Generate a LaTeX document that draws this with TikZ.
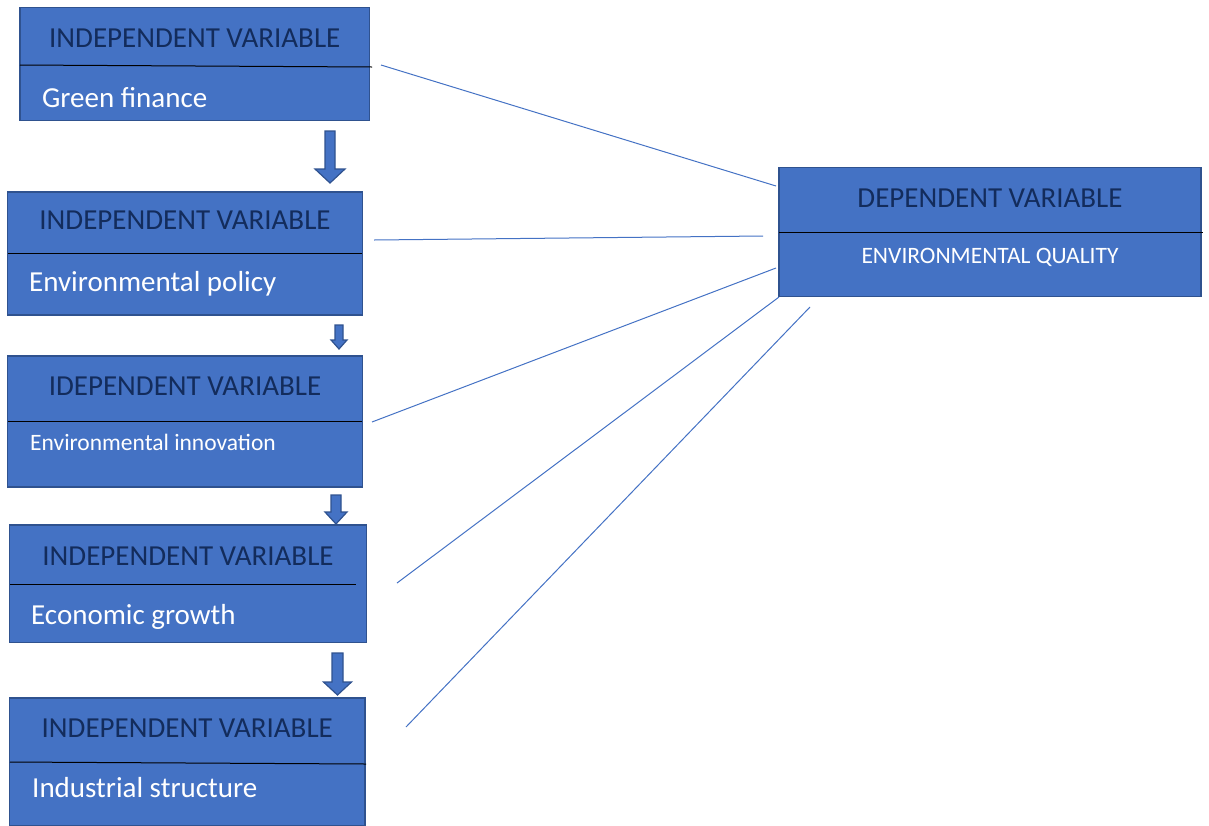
\documentclass[tikz,border=0pt]{standalone}
\usepackage{fontspec}
\setmainfont{Carlito}
\definecolor{boxfill}{HTML}{4472C4}
\definecolor{boxedge}{HTML}{2F528F}
\definecolor{headblue}{HTML}{132C5C}
\tikzset{
  varbox/.style={draw=boxedge, fill=boxfill, line width=1.5pt, inner sep=0pt},
  headtext/.style={text=headblue, anchor=base, inner sep=0pt, font=\fontsize{29}{29}\selectfont},
  bodytext/.style={text=white, anchor=base west, inner sep=0pt, font=\fontsize{29}{29}\selectfont},
  smalltext/.style={bodytext, font=\fontsize{23.5}{23.5}\selectfont},
  divider/.style={black, line width=1pt},
  link/.style={boxfill, line width=1pt},
  flowarrow/.style={draw=boxedge, fill=boxfill, line width=1.2pt},
}
\begin{document}
\begin{tikzpicture}[x=1pt, y=-1pt]
      \useasboundingbox (0,0) rectangle (1209,825);
      % independent variables
      \node[varbox, minimum width=349.5pt, minimum height=113pt] (gf) at (194.75,64) {};
      \node[varbox, minimum width=355pt, minimum height=123pt] (ep) at (185,253.5) {};
      \node[varbox, minimum width=355pt, minimum height=131pt] (ei) at (185,421.5) {};
      \node[varbox, minimum width=357pt, minimum height=117.5pt] (eg) at (188,583.75) {};
      \node[varbox, minimum width=355.5pt, minimum height=128pt] (is) at (187.25,762) {};
      % dependent variable
      \node[varbox, minimum width=422pt, minimum height=129pt] (eq) at (990,232) {};
      \draw[divider] (20,65) -- (372,67);
      \draw[divider] (8,253) -- (362,253);
      \draw[divider] (8,421) -- (362,421);
      \draw[divider] (10,584) -- (356,584);
      \draw[divider] (10,762) -- (366,764);
      \draw[divider] (779,232) -- (1203,232);
      \node[headtext] (gf-head) at (194.75,47) {INDEPENDENT VARIABLE};
      \node[bodytext] (gf-body) at (42,107) {Green finance};
      \node[headtext] (ep-head) at (185,229.5) {INDEPENDENT VARIABLE};
      \node[bodytext] (ep-body) at (29,291) {Environmental policy};
      \node[headtext] (ei-head) at (185,395) {IDEPENDENT VARIABLE};
      \node[smalltext] (ei-body) at (30,450) {Environmental innovation};
      \node[headtext] (eg-head) at (188,565.5) {INDEPENDENT VARIABLE};
      \node[bodytext] (eg-body) at (31,624) {Economic growth};
      \node[headtext] (is-head) at (187.25,737) {INDEPENDENT VARIABLE};
      \node[bodytext] (is-body) at (32,797) {Industrial structure};
      \node[headtext] (eq-head) at (990,207) {DEPENDENT VARIABLE};
      \node[headtext, text=white, font=\fontsize{23.5}{23.5}\selectfont] (eq-body) at (990,263) {ENVIRONMENTAL QUALITY};
      % block arrows between the boxes
      \foreach \ax/\ay/\an/\at/\as/\ah in {330/131/169/183/5/15, 339/325/340/349/4/8, 336/495/512/524/5/11, 337.5/653/682/695/5.5/14}
         \filldraw[flowarrow] (\ax-\as,\ay) -- (\ax+\as,\ay) -- (\ax+\as,\an) -- (\ax+\ah,\an)
            -- (\ax,\at) -- (\ax-\ah,\an) -- (\ax-\as,\an) -- cycle;
      % links to the dependent variable
      \coordinate (gf-out) at (381,65);
      \coordinate (ep-out) at (374,240);
      \coordinate (ei-out) at (372,422);
      \coordinate (eg-out) at (397,583);
      \coordinate (is-out) at (406,727);
      \coordinate (eq-in1) at (776,186);
      \coordinate (eq-in2) at (763,236);
      \coordinate (eq-in3) at (776,268);
      \coordinate (eq-in4) at (779,297);
      \coordinate (eq-in5) at (810,307);
      \draw[link] (gf-out) -- (eq-in1);
      \draw[link] (ep-out) -- (eq-in2);
      \draw[link] (ei-out) -- (eq-in3);
      \draw[link] (eg-out) -- (eq-in4);
      \draw[link] (is-out) -- (eq-in5);
   \end{tikzpicture}
\end{document}
